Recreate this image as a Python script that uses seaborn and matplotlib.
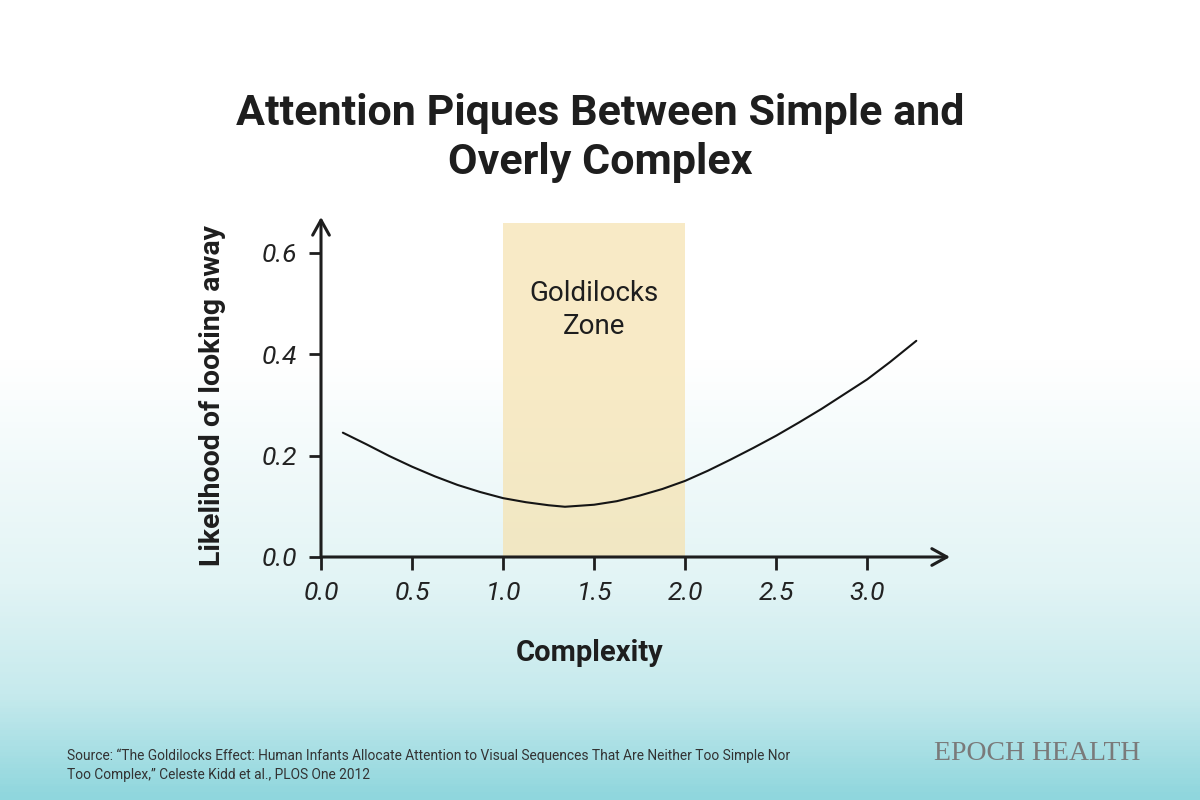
import numpy as np
import seaborn as sns
import matplotlib.pyplot as plt
from matplotlib.colors import LinearSegmentedColormap

# ---------------------------------------
# Data
# ---------------------------------------
complexity = [0.12, 0.25, 0.375, 0.5, 0.625, 0.75, 0.875, 1.0, 1.125, 1.25,
              1.34, 1.5, 1.625, 1.75, 1.875, 2.0, 2.125, 2.25, 2.375, 2.5,
              2.625, 2.75, 2.875, 3.0, 3.125, 3.27]
likelihood = [0.245, 0.222, 0.199, 0.178, 0.159, 0.142, 0.128, 0.116, 0.108, 0.102,
              0.099, 0.103, 0.110, 0.121, 0.134, 0.150, 0.170, 0.192, 0.215, 0.239,
              0.265, 0.292, 0.321, 0.350, 0.384, 0.426]

zone_start, zone_end, zone_top = 1.0, 2.0, 0.659
x_ticks = [0.0, 0.5, 1.0, 1.5, 2.0, 2.5, 3.0]
x_tick_labels = ["0.0", "0.5", "1.0", "1.5", "2.0", "2.5", "3.0"]
y_ticks = [0.0, 0.2, 0.4, 0.6]
y_tick_labels = ["0.0", "0.2", "0.4", "0.6"]

title = "Attention Piques Between Simple and\nOverly Complex"
source = ("Source: \u201cThe Goldilocks Effect: Human Infants Allocate Attention to Visual Sequences That Are Neither Too Simple Nor\n"
          "Too Complex,\u201d Celeste Kidd et al., PLOS One 2012")

# ---------------------------------------
# Theme
# ---------------------------------------
sns.set_theme(style="white")
plt.rcParams["font.family"] = ["Roboto", "DejaVu Sans"]
ink = "#1e1e1e"

fig = plt.figure(figsize=(12, 8), dpi=100)

# background gradient (white top -> teal bottom)
bg = fig.add_axes([0, 0, 1, 1], zorder=-10)
cmap = LinearSegmentedColormap.from_list(
    "bg", [(0.0, "#ffffff"), (0.45, "#ffffff"), (0.73, "#e2f4f5"),
           (0.87, "#c6eaed"), (1.0, "#8fd6dd")])
grad = np.linspace(0, 1, 400).reshape(-1, 1)
bg.imshow(grad, aspect="auto", cmap=cmap, extent=[0, 1, 0, 1], origin="upper")
bg.axis("off")

# main axes
ax = fig.add_axes([321 / 1200, 1 - 557 / 800, 629 / 1200, 340 / 800])
ax.set_facecolor("none")
ax.set_xlim(0, 3.455)
ax.set_ylim(0, 0.67)

# Goldilocks zone
ax.axvspan(zone_start, zone_end, ymin=0, ymax=zone_top / 0.67,
           color="#f6e2ae", alpha=0.7, lw=0, zorder=0)
ax.text((zone_start + zone_end) / 2, 0.487, "Goldilocks\nZone", ha="center", va="center",
        fontsize=20, color=ink, linespacing=1.3, zorder=3)

# curve
sns.lineplot(x=complexity, y=likelihood, ax=ax, color="#151515", linewidth=1.5, zorder=4)

# axes with arrowheads
for s in ax.spines.values():
    s.set_visible(False)
arrow = dict(arrowstyle="->,head_length=0.9,head_width=0.5", color=ink, lw=2.2,
             shrinkA=0, shrinkB=0)
ax.annotate("", xy=(1, 0), xytext=(0, 0), xycoords="axes fraction", arrowprops=arrow,
            annotation_clip=False)
ax.annotate("", xy=(0, 1), xytext=(0, 0), xycoords="axes fraction", arrowprops=arrow,
            annotation_clip=False)

ax.set_xticks(x_ticks)
ax.set_xticklabels(x_tick_labels)
ax.set_yticks(y_ticks)
ax.set_yticklabels(y_tick_labels)
ax.tick_params(axis="both", which="major", bottom=True, left=True, direction="out",
               length=9, width=2.0, color=ink, labelsize=19, labelcolor="#222222", pad=8)
for lab in ax.get_xticklabels() + ax.get_yticklabels():
    lab.set_fontstyle("italic")
ax.grid(False)

# labels and title
fig.text(600 / 1200, 1 - 138 / 800, title, ha="center", va="center", fontsize=31,
         fontweight="bold", color=ink, linespacing=1.25)
fig.text(212 / 1200, 1 - 395 / 800, "Likelihood of looking away", rotation=90,
         ha="center", va="center", fontsize=20.5, fontweight="bold", color=ink)
fig.text(590 / 1200, 1 - 653 / 800, "Complexity", ha="center", va="center",
         fontsize=21, fontweight="bold", color=ink)

fig.text(67 / 1200, 1 - 765 / 800, source, ha="left", va="center", fontsize=9.9,
         color="#333333", linespacing=1.45)
fig.text(1140 / 1200, 1 - 753 / 800, "EPOCH HEALTH", ha="right", va="center",
         fontsize=20, family=["Liberation Serif", "DejaVu Serif"], color="#7a7a7a")

fig.savefig("out.png", dpi=100)
